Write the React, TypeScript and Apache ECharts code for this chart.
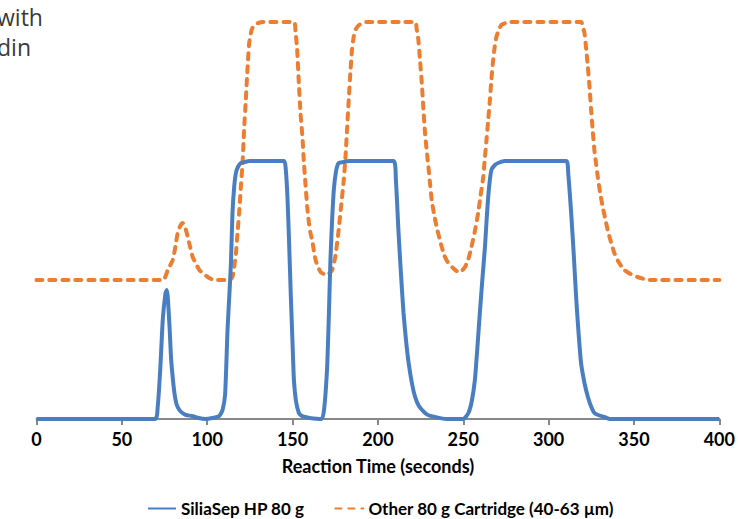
import React, { useEffect, useRef } from "react";
import * as echarts from "echarts";

const xTicks = [0, 50, 100, 150, 200, 250, 300, 350, 400];

const blueName = "SiliaSep HP 80 g";
const blueX = [
  0, 69.5, 71, 72.5, 74, 75.5, 76.3, 76.9, 78, 78.9, 80, 80.8, 82, 83.7, 85.5, 87.6, 91, 95, 99, 103, 107, 109, 110.5,
  111.9, 113, 113.9, 114.8, 115.8, 116.8, 118, 119.7, 122, 124.6, 145, 146, 147, 148, 149, 150, 150.8, 152, 153.7,
  155.5, 157.6, 160, 167, 168.5, 170.2, 171.2, 172.2, 173.2, 174.2, 175.5, 177, 180, 183, 209.2, 210.5, 212, 213.5,
  215, 216.5, 218, 220, 221.8, 224, 227.6, 230, 233.5, 240, 250, 253, 255, 256.8, 258.2, 259.7, 261.2, 262.7, 263.7,
  264.6, 265.5, 266.5, 268.5, 270.4, 274.3, 310.3, 311.5, 313.2, 314.7, 316.1, 317.5, 319, 321, 323, 325, 326.8, 329,
  332.7, 336, 400,
];
const blueY = [
  0, 0, 12, 50, 100, 125, 129, 122, 90, 59, 38, 26, 15, 9, 6, 4, 3, 1, 0, 1, 3, 9, 25, 89, 125, 156, 206, 232, 246,
  252, 256, 257, 258, 258, 250, 222, 175, 122, 75, 39, 18, 6, 3, 2, 1, 0, 10, 50, 100, 160, 200, 230, 248, 256, 257,
  258, 258, 240, 189, 145, 106, 78, 56, 35, 22, 13, 6, 3.5, 2, 0, 0, 6, 18, 39, 70, 106, 140, 172, 200, 222, 238, 249,
  254, 256, 258, 258, 245, 206, 165, 122, 87, 56, 36, 22, 12, 6, 4, 2, 0, 0,
];

const orangeName = "Other 80 g Cartridge (40-63 µm)";
const orangeX = [
  0, 74, 76.9, 79.8, 81.3, 82.7, 84.2, 85.6, 87, 88.6, 90, 91.5, 93.5, 95.4, 98, 101.2, 104, 113, 114.8, 115.8, 116.8,
  117.7, 118.7, 119.7, 120.7, 121.6, 122.6, 123.6, 124.6, 126, 127.5, 130, 132.3, 150.8, 151.7, 152.7, 153.7, 154.7,
  155.7, 156.6, 157.6, 158.6, 159.6, 160.5, 161.5, 162.5, 163.5, 164.9, 166.4, 168.3, 170.2, 171.7, 173.2, 175, 177,
  178.5, 180, 181, 181.9, 182.9, 183.8, 184.8, 185.8, 186.8, 189, 192.6, 221.8, 222.7, 223.7, 224.7, 225.7, 226.6,
  227.6, 228.6, 229.6, 230.5, 231.5, 233, 234.4, 236, 237.4, 239, 241.2, 244, 247.1, 249, 251, 253, 254.8, 256.8,
  258.7, 260.2, 261.7, 262.6, 263.6, 264.6, 265.6, 266.5, 267.5, 268.4, 269.4, 270.8, 272.3, 275, 278.2, 319, 320,
  321, 322, 323, 324, 324.9, 325.8, 326.8, 327.8, 328.8, 330.2, 331.7, 333.2, 334.6, 336.5, 338.5, 341, 344.3, 348,
  352, 356, 360, 400,
];
const orangeY = [
  139, 139, 149, 159, 172, 186, 193, 196, 192, 182, 172, 162, 155, 149, 145, 141, 139, 139, 142, 152, 165, 185, 206,
  232, 256, 289, 319, 350, 376, 389, 394, 396, 397, 397, 388, 369, 335, 305, 284, 258, 234, 212, 196, 186, 179, 168,
  159, 152, 147, 145, 144, 146, 149, 162, 189, 214, 239, 262, 289, 319, 345, 369, 382, 389, 394, 397, 397, 390, 379,
  358, 336, 311, 286, 268, 252, 236, 219, 204, 192, 181, 172, 163, 156, 151, 147, 148, 152, 160, 172, 188, 206, 224,
  242, 260, 279, 299, 319, 340, 359, 372, 382, 389, 394, 396, 397, 397, 392, 386, 370, 352, 331, 309, 289, 269, 255,
  242, 226, 212, 200, 189, 177, 166, 157, 149, 145, 142, 140, 139, 139,
];

const axisTitle = "Reaction Time (seconds)";
const cornerLines = ["with", "din"];

const FONT = "Lato, 'Liberation Sans', sans-serif";

export default function App() {
  const ref = useRef<HTMLDivElement>(null);
  useEffect(() => {
    if (!ref.current) return;
    const chart = echarts.init(ref.current, undefined, { renderer: "svg" });
    const blueData = blueX.map((x, i) => [x, blueY[i]]);
    const orangeData = orangeX.map((x, i) => [x, orangeY[i]]);
    chart.setOption({
      animation: false,
      backgroundColor: "#ffffff",
      textStyle: { fontFamily: FONT },
      grid: { left: 36.5, right: 16, top: 9, bottom: 100, containLabel: false },
      xAxis: {
        type: "value",
        min: 0,
        max: 400,
        interval: 50,
        name: axisTitle,
        nameLocation: "middle",
        nameGap: 38,
        nameTextStyle: { fontFamily: FONT, fontWeight: "bold", fontSize: 18, color: "#000" },
        axisLine: { show: true, lineStyle: { color: "#888888", width: 2 } },
        axisTick: { show: true, length: 6, lineStyle: { color: "#888888", width: 2 } },
        axisLabel: {
          fontFamily: FONT,
          fontWeight: "bold",
          fontSize: 18,
          color: "#000",
          margin: 11,
          formatter: (v: number) => (xTicks.includes(v) ? String(v) : ""),
        },
        splitLine: { show: false },
      },
      yAxis: { type: "value", min: 0, max: 410, show: false, splitLine: { show: false } },
      legend: {
        left: 142,
        top: 495,
        itemWidth: 28,
        itemHeight: 14,
        itemGap: 30,
        itemStyle: { opacity: 0 },
        textStyle: { fontFamily: FONT, fontWeight: "bold", fontSize: 17, color: "#000" },
        data: [blueName, orangeName],
      },
      graphic: cornerLines.map((t, i) => ({
        type: "text",
        x: -3,
        y: 5 + i * 30,
        style: {
          text: t,
          fontFamily: "'Open Sans', sans-serif",
          fontSize: 23,
          fill: "#3a3a3a",
        },
      })),
      series: [
        {
          name: orangeName,
          type: "line",
          data: orangeData,
          symbol: "none",
          smooth: 0.2,
          z: 2,
          itemStyle: { color: "#ED7D31" },
          lineStyle: { color: "#ED7D31", width: 4, type: [6, 7], cap: "round" },
        },
        {
          name: blueName,
          type: "line",
          data: blueData,
          symbol: "none",
          smooth: 0.2,
          z: 3,
          itemStyle: { color: "#4A7EC2" },
          lineStyle: { color: "#4A7EC2", width: 4 },
        },
      ],
    });
    return () => chart.dispose();
  }, []);
  return (
    <div
      ref={ref}
      style={{ position: "fixed", left: 0, top: 0, width: 738, height: 519, background: "#fff" }}
    />
  );
}
